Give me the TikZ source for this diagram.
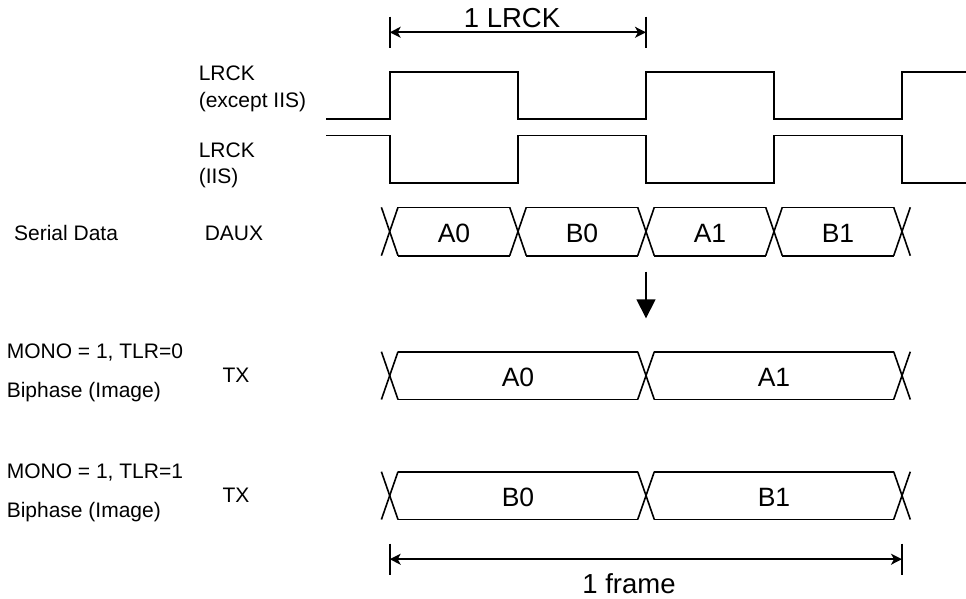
\documentclass[tikz,border=0pt]{standalone}
\usepackage{fontspec}
\setmainfont{Liberation Sans}
\usetikzlibrary{arrows.meta}
\begin{document}
\begin{tikzpicture}[x=1pt,y=-1pt,
  line width=1.6pt,
  sig/.style={line width=1.6pt, line join=miter},
  bus/.style={line width=1.6pt, line cap=butt},
  lbl/.style={inner sep=0pt, anchor=base west, font=\fontsize{21}{25}\selectfont},
  big/.style={inner sep=0pt, anchor=base, font=\fontsize{26.5}{30}\selectfont},
  dimarrow/.style={line width=1.6pt, {Stealth[length=11pt,width=11pt,inset=3pt]}-{Stealth[length=11pt,width=11pt,inset=3pt]}},
  tick/.style={line width=1.6pt},
  down/.style={line width=1.6pt, -{Triangle[length=19pt,width=19pt]}}
]
\useasboundingbox (0,0) rectangle (966,599);

% ---- 1 LRCK dimension
\coordinate (l1t) at (389.7,16.7); \coordinate (l1b) at (389.7,47.7);
\coordinate (l2t) at (646,16.7);   \coordinate (l2b) at (646,47.7);
\coordinate (l1m) at (389.7,32.3); \coordinate (l2m) at (646,32.3);
\draw[tick] (l1t) -- (l1b);
\draw[tick] (l2t) -- (l2b);
\draw[dimarrow] (l1m) -- (l2m);
\node[big, font=\fontsize{27.5}{30}\selectfont] (lrcktxt) at (512,27.3) {1 LRCK};

% ---- labels
\node[lbl] (la1) at (198,80.7) {LRCK};
\node[lbl] (la2) at (198,107.3) {(except IIS)};
\node[lbl] (lb1) at (198,157.3) {LRCK};
\node[lbl] (lb2) at (198,183.3) {(IIS)};
\node[lbl] (sd) at (13.3,240) {Serial Data};
\node[lbl] (daux) at (204,240) {DAUX};
\node[lbl] (m1) at (6,358.3) {MONO = 1, TLR=0};
\node[lbl] (bp1) at (6,397.7) {Biphase (Image)};
\node[lbl] (tx1) at (221.7,382.3) {TX};
\node[lbl] (m2) at (6,478.3) {MONO = 1, TLR=1};
\node[lbl] (bp2) at (6,517.7) {Biphase (Image)};
\node[lbl] (tx2) at (221.7,502.3) {TX};

% ---- LRCK (except IIS)
\draw[sig] (326,119) -- (389.7,119) -- (389.7,72) -- (518,72) -- (518,119)
  -- (646,119) -- (646,72) -- (774,72) -- (774,119) -- (902,119) -- (902,72) -- (966,72);
% ---- LRCK (IIS)
\draw[sig] (326,135.7) -- (389.7,135.7) -- (389.7,183) -- (518,183) -- (518,135.7)
  -- (646,135.7) -- (646,183) -- (774,183) -- (774,135.7) -- (902,135.7) -- (902,183) -- (966,183);

% ---- DAUX bus
\foreach \b in {389.7,518,646,774,902} {
  \draw[bus] (\b-8.3,207.3) -- (\b+8.3,255.7);
  \draw[bus] (\b-8.3,255.7) -- (\b+8.3,207.3);
}
\foreach \a/\c in {389.7/518,518/646,646/774,774/902} {
  \draw[bus] (\a+8.3,207.3) -- (\c-8.3,207.3);
  \draw[bus] (\a+8.3,255.7) -- (\c-8.3,255.7);
}
\node[big] (a0) at (454,242.7) {A0};
\node[big] (b0) at (582,242.7) {B0};
\node[big] (a1) at (710,242.7) {A1};
\node[big] (b1) at (838,242.7) {B1};

% ---- down arrow
\coordinate (dt) at (646,271.7);
\coordinate (db) at (646,318.3);
\draw[down] (dt) -- (db);

% ---- TX rows
\foreach \t/\bt in {351.7/399.5,471.7/519.5} {
  \foreach \b in {389.7,646,902} {
    \draw[bus] (\b-8.3,\t) -- (\b+8.3,\bt);
    \draw[bus] (\b-8.3,\bt) -- (\b+8.3,\t);
  }
  \foreach \a/\c in {389.7/646,646/902} {
    \draw[bus] (\a+8.3,\t) -- (\c-8.3,\t);
    \draw[bus] (\a+8.3,\bt) -- (\c-8.3,\bt);
  }
}
\node[big] (ta0) at (518,386.7) {A0};
\node[big] (ta1) at (774,386.7) {A1};
\node[big] (tb0) at (518,506.7) {B0};
\node[big] (tb1) at (774,506.7) {B1};

% ---- 1 frame dimension
\coordinate (f1t) at (389.7,543.5); \coordinate (f1b) at (389.7,574.5);
\coordinate (f2t) at (902,543.5);   \coordinate (f2b) at (902,574.5);
\coordinate (f1m) at (389.7,559.2); \coordinate (f2m) at (902,559.2);
\draw[tick] (f1t) -- (f1b);
\draw[tick] (f2t) -- (f2b);
\draw[dimarrow] (f1m) -- (f2m);
\node[big, font=\fontsize{27.5}{30}\selectfont] (frametxt) at (629,593.3) {1 frame};
\end{tikzpicture}
\end{document}
